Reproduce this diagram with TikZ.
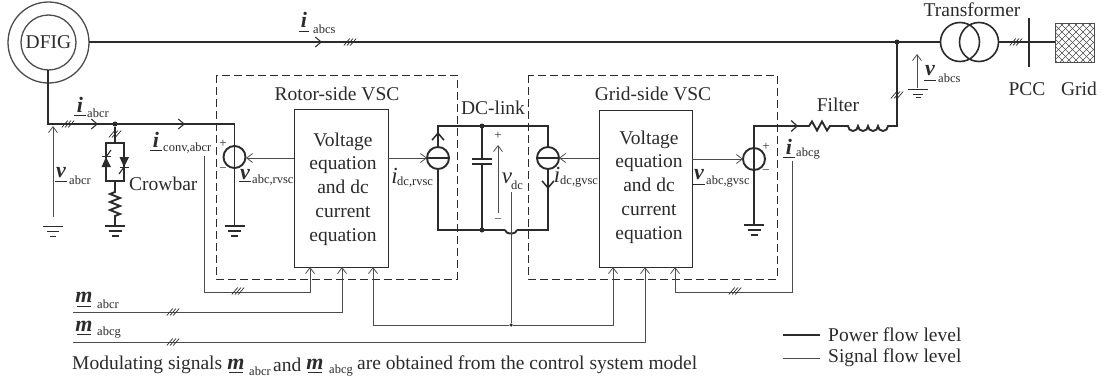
\documentclass[tikz,border=0pt]{standalone}
\usepackage{fontspec}
\setmainfont{Liberation Serif}
\usetikzlibrary{arrows.meta}
\definecolor{ink}{gray}{0.17}
\definecolor{sig}{gray}{0.3}
\tikzset{
  pow/.style={draw=ink,line width=1.9pt},
  sigl/.style={draw=sig,line width=0.9pt},
  opn/.style={-{Straight Barb[length=6pt,width=9pt,line width=0.8pt]}},
  dashbox/.style={draw=ink,line width=0.7pt,dash pattern=on 8pt off 4pt},
  eqbox/.style={draw=ink,line width=0.9pt},
  srcc/.style={circle,draw=ink,line width=1.9pt,minimum size=22pt,inner sep=0pt,fill=white},
  jun/.style={circle,fill=ink,inner sep=0pt,minimum size=5pt},
  txt/.style={inner sep=0pt,text=ink,font=\fontsize{19.5}{21}\selectfont},
  subt/.style={inner sep=0pt,text=ink,anchor=west,font=\fontsize{12.5}{14}\selectfont},
  vec/.style={inner sep=0pt,text=ink,font=\fontsize{22}{24}\bfseries\itshape\selectfont},
  ital/.style={inner sep=0pt,text=ink,font=\fontsize{23}{24}\itshape\selectfont},
  eqtxt/.style={inner sep=0pt,text=ink,align=center,font=\fontsize{19.5}{23.7}\selectfont},
  pm/.style={inner sep=0pt,text=ink,font=\fontsize{13}{14}\selectfont}
}
% \vecsym{name}{x}{y}{letter}{half width}{underline offset}
\newcommand{\vecsym}[6]{%
  \node[vec] (#1) at (#2,#3) {#4};
  \draw[draw=ink,line width=0.9pt] (#2-#5,#3+#6) -- (#2+#5,#3+#6);}
\newcommand{\tickmark}[2]{%
  \foreach \d in {-3.2,0,3.2}{\draw[draw=ink,line width=0.7pt] (#1+\d-3,#2+3.5) -- (#1+\d+3,#2-3.5);}}
\newcommand{\gnd}[3]{%
  \draw[draw=ink,line width=#3] (#1-10,#2) -- (#1+10,#2);
  \draw[draw=ink,line width=#3] (#1-6.5,#2+5) -- (#1+6.5,#2+5);
  \draw[draw=ink,line width=#3] (#1-3.5,#2+10) -- (#1+3.5,#2+10);}
\begin{document}
\begin{tikzpicture}[x=1pt,y=-1pt]
\useasboundingbox (0,0) rectangle (1104,383);
% dashed boxes
\draw[dashbox] (216,75) rectangle (457,279);
\draw[dashbox] (528,75) rectangle (777,279);
% equation boxes
\node[eqbox,minimum width=94pt,minimum height=158pt,inner sep=0pt] (rotbox) at (341,188) {};
\node[eqbox,minimum width=93pt,minimum height=157pt,inner sep=0pt] (gridbox) at (645.5,188.5) {};
\node[eqtxt] (rottxt) at (343,189) {Voltage\\equation\\and dc\\current\\equation};
\node[eqtxt] (gridtxt) at (649,187) {Voltage\\equation\\and dc\\current\\equation};
\node[txt] (rott) at (337,94) {Rotor-side VSC};
\node[txt] (gridtt) at (653,94) {Grid-side VSC};
% DFIG
\node[circle,draw=sig,line width=1.3pt,minimum size=81pt,inner sep=0pt] (dfigo) at (48.5,42.5) {};
\node[circle,draw=sig,line width=1.3pt,minimum size=55pt,inner sep=0pt,text=ink,font=\fontsize{19.5}{21}\selectfont] (dfig) at (48.5,42.5) {DFIG};
% top bus
\node[circle,draw=ink,line width=1.6pt,minimum size=39pt,inner sep=0pt] (tl) at (960,42) {};
\node[circle,draw=ink,line width=1.6pt,minimum size=39pt,inner sep=0pt] (tr) at (979,42) {};
\node[txt] (transf) at (972,10) {Transformer};
\node[jun] (jtop) at (897,42) {};
\draw[pow] (89,42) -- (940,42);
\coordinate (pcca) at (1029,18); \coordinate (pccb) at (1029,67);
\draw[draw=ink,line width=2.8pt] (pcca) -- (pccb);
\draw[pow] (998.5,42) -- (1055,42);
\node[draw=sig,line width=0.8pt,minimum width=39.5pt,minimum height=39pt,inner sep=0pt] (gridr) at (1075,42.5) {};
\begin{scope}
\clip (1055.25,23) rectangle (1094.75,62);
\foreach \k in {-40,-33,...,90}{
  \draw[draw=sig,line width=0.55pt] (1055+\k,23) -- (1055+\k-39,62);
  \draw[draw=sig,line width=0.55pt] (1055+\k-39,23) -- (1055+\k,62);}
\end{scope}
\tickmark{1016}{42}
\tickmark{350}{42}
\draw[draw=ink,line width=1pt,-{Straight Barb[length=6pt,width=10pt,line width=1pt]}] (308,42) -- (322,42);
\node[txt] (pcc) at (1027,89) {PCC};
\node[txt] (gridt) at (1079,89) {Grid};
% vabcs
\coordinate (vsb) at (917,88); \coordinate (vst) at (917,54);
\draw[sigl,opn] (vsb) -- (vst);
\draw[draw=ink,line width=0.8pt] (908,89) -- (928,89) (913,94) -- (923,94) (915.5,97) -- (920.5,97);
\vecsym{vs}{930}{71}{v}{6}{9}
\node[subt] (vss) at (938,78) {abcs};
% iabcs
\vecsym{is}{304}{20}{i}{5}{11}
\node[subt] (iss) at (313,29) {abcs};
% rotor wire
\node[srcc,fill=none] (srcr) at (234.5,157) {};
\draw[pow,line join=miter] (48,70) -- (48,124) -- (234.5,124) -- (234.5,226);
\node[jun] (jc) at (115,124) {};
\gnd{234.5}{226}{1.7pt}
\tickmark{68}{124}
\draw[draw=ink,line width=1pt,-{Straight Barb[length=6pt,width=10pt,line width=1pt]}] (85,124) -- (98,124);
\draw[draw=ink,line width=1pt,-{Straight Barb[length=6pt,width=10pt,line width=1pt]}] (172,124) -- (185,124);
\vecsym{ir}{80}{104.5}{i}{6}{10.5}
\node[subt] (irs) at (87,113) {abcr};
\node[pm] (pr1) at (223,144) {+};
\node[pm] (mr1) at (223,170) {−};
% crowbar
\draw[pow] (jc) -- (115,143) (106,143) rectangle (124,181);
\tickmark{115}{134}
\draw[pow] (115,181) -- (115,192) -- (110,194) -- (120,198) -- (110,202) -- (120,206) -- (110,210) -- (120,214) -- (115,216) -- (115,226);
\gnd{115}{226}{1.7pt}
\fill[ink] (101.5,167) -- (111,167) -- (106,157) -- cycle;
\draw[draw=ink,line width=1.5pt] (101.5,156.5) -- (111,156.5);
\draw[draw=ink,line width=1.1pt] (106,157) -- (111,150);
\fill[ink] (119.5,157) -- (129,157) -- (124,167) -- cycle;
\draw[draw=ink,line width=1.5pt] (119.5,167.5) -- (129,167.5);
\draw[draw=ink,line width=1.1pt] (124,167) -- (119,174);
\node[txt,anchor=west] (crow) at (129,184) {Crowbar};
% v abcr
\coordinate (vrb) at (53,217); \coordinate (vrt) at (53,126);
\draw[sigl,opn] (vrb) -- (vrt);
\draw[draw=ink,line width=0.8pt] (43,226) -- (63,226) (47,231) -- (59,231) (50,236) -- (56,236);
\vecsym{vr}{61}{173}{v}{6}{8.5}
\node[subt] (vrs) at (69,180) {abcr};
% i conv
\vecsym{ic}{156}{139.5}{i}{6}{10.5}
\node[subt] (ics) at (163,148) {conv,abcr};
\coordinate (icf) at (204,156); \coordinate (icc) at (204,292); \coordinate (icu) at (310,292);
\draw[sigl,opn] (icf) -- (icc) -- (icu) -- (310,267);
\tickmark{238}{291}
% signals to source r
\draw[sigl,opn] (rotbox.west |- 0,158) -- (246,158);
\vecsym{vrv}{245}{174.5}{v}{6}{6.5}
\node[subt] (vrvs) at (252,180) {abc,rvsc};
% DC link
\draw[pow,line join=miter] (505,230) -- (438,230) -- (438,126) -- (548,126) -- (548,230) -- (517,230);
\draw[pow] (505,230) arc[start angle=180,end angle=0,x radius=6,y radius=3.5];
\draw[pow] (482,126) -- (482,159) (482,230) -- (482,164);
\node[jun] (jdt) at (482,126) {};
\node[jun] (jdb) at (482,230) {};
\draw[pow] (472,159) -- (492,159) (472,164) -- (492,164);
\node[srcc] (srcl) at (438,158) {};
\draw[pow] (srcl.west) -- (srcl.east);
\node[srcc] (srcg) at (548,158) {};
\draw[pow] (srcg.west) -- (srcg.east);
\draw[draw=ink,line width=1.6pt,-{Straight Barb[length=7pt,width=12pt,line width=1.5pt]}] (438,147) -- (438,132);
\draw[draw=ink,line width=1.6pt,-{Straight Barb[length=7pt,width=12pt,line width=1.5pt]}] (548,169) -- (548,189);
\draw[sigl,opn] (rotbox.east |- 0,158) -- (srcl.east -| 427,158);
\draw[sigl,opn] (gridbox.west |- 0,158) -- (559,158);
\node[ital] (idr) at (394.5,176) {i};
\node[subt] (idrs) at (397,182) {dc,rvsc};
\node[ital] (idg) at (557,175) {i};
\node[subt] (idgs) at (560,182) {dc,gvsc};
\node[txt] (dcl) at (493,108) {DC-link};
\coordinate (vdb) at (498,213); \coordinate (vdt) at (498,145);
\draw[sigl,opn] (vdb) -- (vdt);
\node[pm] (vp) at (498,136) {+};
\node[pm] (vm) at (498,221) {−};
\node[ital] (vd) at (507,178) {v};
\node[subt] (vds) at (511,185) {dc};
% grid side source
\node[srcc,fill=none] (srcv) at (754,159) {};
\draw[pow,line join=miter] (754,225) -- (754,126) -- (807,126) -- (809,126) -- (812,121.5) -- (817,130.5) -- (822,121.5) -- (827,130.5) -- (830,126) -- (848,126)
  arc[start angle=180,end angle=0,radius=5] arc[start angle=180,end angle=0,radius=5] arc[start angle=180,end angle=0,radius=5] arc[start angle=180,end angle=0,radius=5] -- (897,126) -- (897,42);
\gnd{754}{225}{1.7pt}
\draw[draw=ink,line width=1pt,-{Straight Barb[length=6pt,width=11pt,line width=1.2pt]}] (785,126) -- (798,126);
\tickmark{897}{95}
\node[txt] (filt) at (838,105) {Filter};
\draw[sigl,opn] (gridbox.east |- 0,159) -- (743,159);
\vecsym{vg}{699}{175}{v}{6}{9}
\node[subt] (vgs) at (706,182) {abc,gvsc};
\node[pm] (pg) at (766,147) {+};
\node[pm] (mg) at (766,172) {−};
\vecsym{ig}{789}{147}{i}{6}{10}
\node[subt] (igs) at (796,154) {abcg};
\coordinate (igf) at (792,161); \coordinate (igc) at (792,292); \coordinate (igu) at (675,292);
\draw[sigl,opn] (igf) -- (igc) -- (igu) -- (675,267);
\tickmark{735}{291}
% feedback
\coordinate (mr0) at (73,312); \coordinate (mrc) at (342,312);
\draw[sigl,opn] (mr0) -- (mrc) -- (342,267);
\coordinate (mg0) at (73,342); \coordinate (mgc) at (645,342);
\draw[sigl,opn] (mg0) -- (mgc) -- (645,267);
\tickmark{173}{312}
\tickmark{173}{342}
\node[jun,minimum size=3.5pt] (jv) at (511,325) {};
\draw[sigl,opn] (jv) -- (373,325) -- (373,267);
\draw[sigl,opn] (jv) -- (613,325) -- (613,267);
\draw[sigl] (jv) -- (511,192);
\vecsym{mr}{84}{297.5}{m}{7}{8.5}
\node[subt] (mrs) at (97,304) {abcr};
\vecsym{mg}{84}{326}{m}{7}{8}
\node[subt] (mgs) at (97,333) {abcg};
% legend
\coordinate (la) at (783,335); \coordinate (lb) at (820,335);
\coordinate (lc) at (783,358); \coordinate (ld) at (820,358);
\draw[pow] (la) -- (lb);
\draw[sigl] (lc) -- (ld);
\node[txt,anchor=west] (l1) at (828,335) {Power flow level};
\node[txt,anchor=west] (l2) at (828,358) {Signal flow level};
% caption
\node[txt,anchor=west] (cap1) at (72,365) {Modulating signals};
\vecsym{cm1}{236}{364.5}{m}{7}{7.5}
\node[subt] (cap2) at (249,371) {abcr};
\node[txt,anchor=west] (cap3) at (273,365) {and};
\vecsym{cm2}{315}{364.5}{m}{7}{7.5}
\node[subt] (cap4) at (329,371) {abcg};
\node[txt,anchor=west] (cap5) at (357,365) {are obtained from the control system model};
\end{tikzpicture}
\end{document}
